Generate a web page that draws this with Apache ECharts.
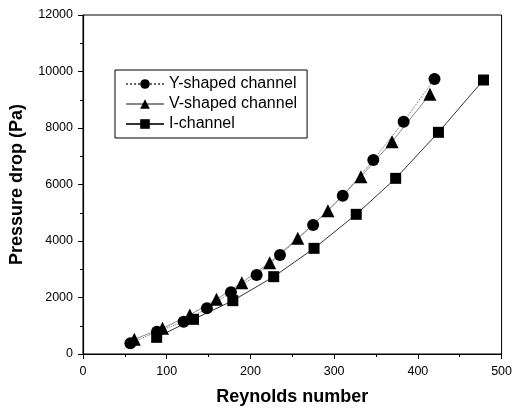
<!DOCTYPE html>
<html><head><meta charset="utf-8">
<script src="https://cdn.jsdelivr.net/npm/echarts@6/dist/echarts.min.js"></script>
<style>html,body{margin:0;padding:0;background:#fff}#c{width:515px;height:413px}</style>
</head><body><div id="c"></div>
<script>
const yShapedRe = [56.6, 88.4, 120.2, 148, 176.7, 207.4, 235.3, 274.9, 310.3, 346.8, 383, 419.9];
const yShapedDp = [379, 790, 1145, 1617, 2183, 2796, 3504, 4566, 5605, 6867, 8224, 9735];
const vShapedRe = [61.3, 95, 127.6, 159.5, 189.7, 223, 256.5, 292.6, 331.9, 369.2, 414.4];
const vShapedDp = [520, 909, 1380, 1935, 2525, 3233, 4094, 5074, 6277, 7516, 9192];
const iChannelRe = [88, 132, 179, 227.8, 276, 326.4, 373.5, 424.6, 478.4];
const iChannelDp = [590, 1227, 1888, 2737, 3740, 4944, 6218, 7847, 9699];
const xTicks = [0, 100, 200, 300, 400, 500];
const yTicks = [0, 2000, 4000, 6000, 8000, 10000, 12000];

const zip = (a, b) => a.map((v, i) => [v, b[i]]);
const font = 'Liberation Sans, Arial, sans-serif';
const chart = echarts.init(document.getElementById('c'), null, {renderer: 'canvas'});
chart.setOption({
  animation: false,
  backgroundColor: '#fff',
  grid: {left: 79, right: 12, top: 15, bottom: 59, show: true, borderColor: '#000', borderWidth: 1},
  legend: {
    orient: 'vertical', left: 115, top: 70,
    padding: [6, 10, 6, 10],
    borderColor: '#000', borderWidth: 1,
    itemWidth: 38, itemHeight: 12, itemGap: 4,
    textStyle: {fontFamily: font, fontSize: 16, color: '#000', padding: [0, 0, 0, 0]},
    data: ['Y-shaped channel', 'V-shaped channel', 'I-channel']
  },
  xAxis: {
    type: 'value', min: 0, max: 500, interval: 100,
    name: 'Reynolds number', nameLocation: 'middle', nameGap: 34,
    nameTextStyle: {fontFamily: font, fontSize: 18, fontWeight: 'bold', color: '#000'},
    axisLine: {onZero: false, lineStyle: {color: '#000', width: 1.2}},
    axisTick: {length: 5, inside: false, lineStyle: {color: '#000'}},
    minorTick: {show: true, splitNumber: 2, length: 3, lineStyle: {color: '#000'}},
    axisLabel: {fontFamily: font, fontSize: 12.5, color: '#000', margin: 11,
      formatter: v => xTicks.includes(v) ? String(v) : ''},
    splitLine: {show: false}
  },
  yAxis: {
    type: 'value', min: 0, max: 12000, interval: 2000,
    name: 'Pressure drop (Pa)', nameLocation: 'middle', nameGap: 57,
    nameTextStyle: {fontFamily: font, fontSize: 18, fontWeight: 'bold', color: '#000'},
    axisLine: {onZero: false, lineStyle: {color: '#000', width: 1.2}},
    axisTick: {length: 5, lineStyle: {color: '#000'}},
    minorTick: {show: true, splitNumber: 2, length: 3, lineStyle: {color: '#000'}},
    axisLabel: {fontFamily: font, fontSize: 12.5, color: '#000', margin: 10,
      formatter: v => yTicks.includes(v) ? String(v) : ''},
    splitLine: {show: false}
  },
  series: [
    {name: 'Y-shaped channel', type: 'line', data: zip(yShapedRe, yShapedDp),
      symbol: 'circle', symbolSize: 12,
      itemStyle: {color: '#000'},
      lineStyle: {color: '#666', width: 1, type: 'dotted'}},
    {name: 'V-shaped channel', type: 'line', data: zip(vShapedRe, vShapedDp),
      symbol: 'triangle', symbolSize: 13,
      itemStyle: {color: '#000'},
      lineStyle: {color: '#888', width: 1}},
    {name: 'I-channel', type: 'line', data: zip(iChannelRe, iChannelDp),
      symbol: 'rect', symbolSize: 11,
      itemStyle: {color: '#000'},
      lineStyle: {color: '#333', width: 1}}
  ]
});
</script></body></html>
